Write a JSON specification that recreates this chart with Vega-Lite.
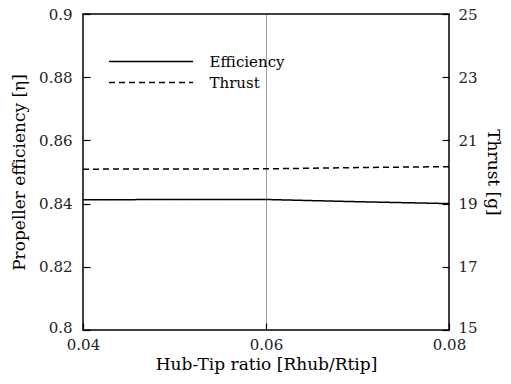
{
  "$schema": "https://vega.github.io/schema/vega-lite/v6.json",
  "width": 366,
  "height": 316,
  "autosize": "none",
  "padding": {"left": 83, "top": 14, "right": 62, "bottom": 54},
  "background": "white",
  "config": {
    "font": "DejaVu Serif",
    "view": {"stroke": "black", "strokeWidth": 1.5},
    "axis": {
      "labelFont": "DejaVu Serif",
      "titleFont": "DejaVu Serif",
      "labelFontSize": 15,
      "titleFontSize": 17,
      "labelColor": "#222",
      "titleColor": "black",
      "titleFontWeight": "normal",
      "domain": false,
      "labelFlush": false,
      "labelOverlap": false,
      "grid": false
    },
    "legend": {"labelFont": "DejaVu Serif"}
  },
  "data": {
    "values": [
      {"ratio": 0.04, "series": "Efficiency", "value": 0.8412},
      {"ratio": 0.05, "series": "Efficiency", "value": 0.8413},
      {"ratio": 0.06, "series": "Efficiency", "value": 0.8413},
      {"ratio": 0.07, "series": "Efficiency", "value": 0.8406},
      {"ratio": 0.08, "series": "Efficiency", "value": 0.8400},
      {"ratio": 0.04, "series": "Thrust", "value": 20.09},
      {"ratio": 0.06, "series": "Thrust", "value": 20.10},
      {"ratio": 0.065, "series": "Thrust", "value": 20.12},
      {"ratio": 0.07, "series": "Thrust", "value": 20.14},
      {"ratio": 0.08, "series": "Thrust", "value": 20.17}
    ]
  },
  "layer": [
    {
      "transform": [{"filter": "datum.series === 'Efficiency'"}],
      "mark": {"type": "line", "color": "black", "strokeWidth": 1.5},
      "encoding": {
        "x": {
          "field": "ratio", "type": "quantitative",
          "scale": {"domain": [0.04, 0.08], "nice": false, "zero": false},
          "axis": {
            "values": [0.04, 0.06, 0.08], "format": ".2f",
            "title": "Hub-Tip ratio [Rhub/Rtip]",
            "ticks": true, "tickSize": -7, "tickColor": "black", "tickWidth": 1.2,
            "labelPadding": 14,
            "grid": true, "gridDash": [1, 1], "gridColor": "#444", "gridWidth": 1,
            "titlePadding": 4
          }
        },
        "y": {
          "field": "value", "type": "quantitative",
          "scale": {"domain": [0.8, 0.9], "nice": false, "zero": false},
          "axis": {
            "values": [0.8, 0.82, 0.84, 0.86, 0.88, 0.9], "format": "~g",
            "title": "Propeller efficiency [η]",
            "ticks": true, "tickSize": -7, "tickColor": "black", "tickWidth": 1.2,
            "labelPadding": 18, "titlePadding": 10,
            "labelOffset": {"condition": {"test": "datum.value === 0.8", "value": -3}, "value": 0}
          }
        },
        "strokeDash": {
          "field": "series", "type": "nominal",
          "scale": {"domain": ["Efficiency", "Thrust"], "range": [[1, 0], [6, 4]]},
          "legend": {
            "orient": "none", "legendX": 56.5, "legendY": 36, "title": null,
            "symbolType": "M-4,0H4", "symbolSize": 441, "symbolStrokeWidth": 1.5,
            "symbolStrokeColor": "black",
            "labelFontSize": 15, "labelColor": "black", "labelOffset": 47, "rowPadding": 1
          }
        }
      }
    },
    {
      "transform": [{"filter": "datum.series === 'Thrust'"}],
      "mark": {"type": "line", "color": "black", "strokeWidth": 1.5},
      "encoding": {
        "x": {"field": "ratio", "type": "quantitative"},
        "y": {
          "field": "value", "type": "quantitative",
          "scale": {"domain": [15, 25], "nice": false, "zero": false},
          "axis": {
            "orient": "right",
            "values": [15, 17, 19, 21, 23, 25], "format": "d",
            "title": "Thrust [g]",
            "ticks": true, "tickSize": -7, "tickColor": "black", "tickWidth": 1.2,
            "labelPadding": 16, "titlePadding": 6,
            "labelOffset": {"condition": {"test": "datum.value === 15", "value": -3}, "value": 0}
          }
        },
        "strokeDash": {"field": "series", "type": "nominal"}
      }
    }
  ],
  "resolve": {"scale": {"y": "independent"}}
}
